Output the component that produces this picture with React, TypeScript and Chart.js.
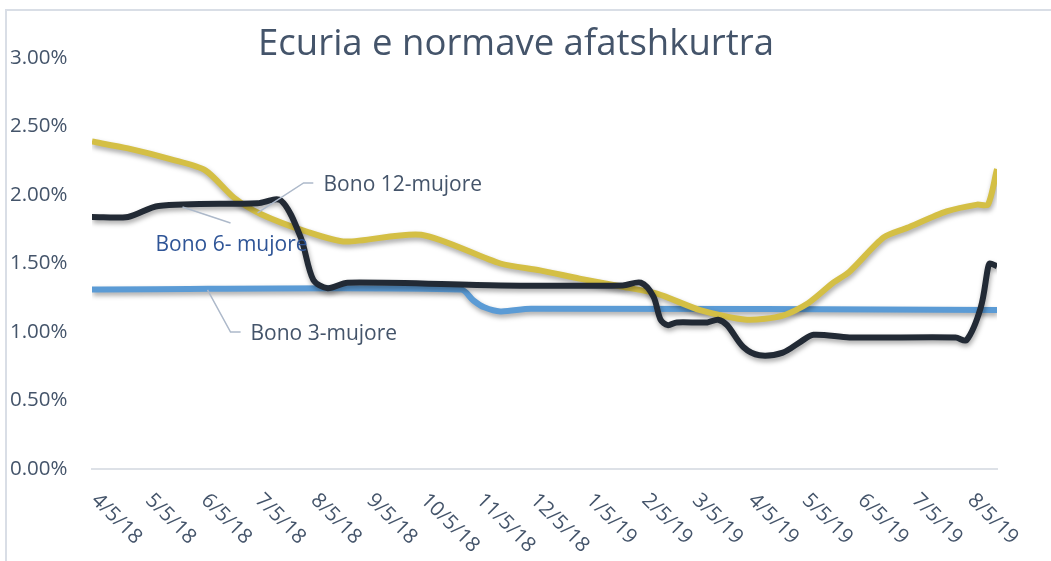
import React, { useEffect, useRef } from "react";
import { Chart, registerables } from "chart.js";

Chart.register(...registerables);

// ---- data ----
const tickDays = [0, 30, 61, 91, 122, 153, 183, 214, 244, 275, 306, 334, 365, 395, 426, 456, 487];
const tickLabels = [
  "4/5/18", "5/5/18", "6/5/18", "7/5/18", "8/5/18", "9/5/18", "10/5/18", "11/5/18", "12/5/18",
  "1/5/19", "2/5/19", "3/5/19", "4/5/19", "5/5/19", "6/5/19", "7/5/19", "8/5/19",
];

const days12 = [-2, 18, 42, 61, 77, 92, 118, 139, 181, 225, 247, 269, 293, 312, 336, 362, 382, 396, 410, 419, 438, 451, 473, 490, 496, 501];
const bono12 = [2.39, 2.34, 2.26, 2.18, 1.98, 1.86, 1.73, 1.66, 1.71, 1.5, 1.45, 1.39, 1.33, 1.28, 1.16, 1.09, 1.12, 1.21, 1.36, 1.44, 1.69, 1.76, 1.88, 1.93, 1.93, 2.19];

const days6 = [-2, 18, 35, 90, 103, 114, 121, 129, 140, 225, 293, 303, 310, 314, 318, 323, 340, 346, 351, 360, 369, 382, 392, 399, 419, 478, 484, 492, 496, 497, 501];
const bono6 = [1.84, 1.84, 1.92, 1.94, 1.96, 1.69, 1.38, 1.32, 1.36, 1.34, 1.34, 1.36, 1.26, 1.09, 1.05, 1.07, 1.07, 1.09, 1.05, 0.89, 0.83, 0.85, 0.93, 0.98, 0.96, 0.96, 0.94, 1.18, 1.47, 1.5, 1.48];

const days3 = [-2, 203, 210, 216, 225, 242, 501];
const bono3 = [1.31, 1.31, 1.23, 1.18, 1.15, 1.17, 1.16];

const seriesNames = ["Bono 6- mujore", "Bono 12-mujore", "Bono 3-mujore"];

const TITLE = "Ecuria e normave afatshkurtra";
const TEXT = "#44546A";
const FONT = '"Open Sans", "Noto Sans", sans-serif';

// annotation labels (data coordinates: day, value)
const annotations = [
  { text: "Bono 12-mujore", color: TEXT, at: [126.7, 2.03], leader: [[121, 2.088], [115.6, 2.088], [90, 1.869]] },
  { text: "Bono 6- mujore", color: "#2F5597", at: [33.3, 1.59], leader: [[75, 1.796], [48.3, 1.912]] },
  { text: "Bono 3-mujore", color: TEXT, at: [86.1, 0.942], leader: [[62.2, 1.307], [75, 1.0], [80.6, 1.0]] },
];

const toXY = (xs: number[], ys: number[]) => xs.map((x, i) => ({ x, y: ys[i] }));

export default function App() {
  const ref = useRef<HTMLCanvasElement | null>(null);

  useEffect(() => {
    document.body.style.margin = "0";
    const canvas = ref.current;
    if (!canvas) return;

    const framePlugin = {
      id: "frame",
      beforeDraw(chart: any) {
        const ctx = chart.ctx;
        ctx.save();
        ctx.strokeStyle = "#D9DEE6";
        ctx.lineWidth = 2;
        ctx.beginPath();
        ctx.moveTo(6, chart.height);
        ctx.lineTo(6, 10);
        ctx.lineTo(chart.width, 10);
        ctx.stroke();
        ctx.fillStyle = TEXT;
        ctx.font = `36.5px ${FONT}`;
        ctx.textAlign = "center";
        ctx.textBaseline = "alphabetic";
        ctx.fillText(TITLE, 516, 55);
        ctx.restore();
      },
    };

    const shadowPlugin = {
      id: "shadow",
      beforeDatasetDraw(chart: any) {
        const ctx = chart.ctx;
        ctx.save();
        ctx.shadowColor = "rgba(0,0,0,0.35)";
        ctx.shadowBlur = 5;
        ctx.shadowOffsetX = 1;
        ctx.shadowOffsetY = 3;
      },
      afterDatasetDraw(chart: any) {
        chart.ctx.restore();
      },
    };

    const labelsPlugin = {
      id: "xlabels",
      afterDraw(chart: any) {
        const ctx = chart.ctx;
        const xs = chart.scales.x;
        const ys = chart.scales.y;
        ctx.save();
        ctx.font = `20.5px ${FONT}`;
        ctx.fillStyle = TEXT;
        ctx.textAlign = "left";
        ctx.textBaseline = "middle";
        const top = chart.chartArea.bottom + 28;
        xs.ticks.forEach((t: any, i: number) => {
          const px = xs.getPixelForValue(t.value);
          ctx.save();
          ctx.translate(px - 1, top);
          ctx.rotate(Math.PI / 4);
          ctx.fillText(tickLabels[i], 0, 0);
          ctx.restore();
        });
        // annotations
        ctx.font = `21px ${FONT}`;
        annotations.forEach((a) => {
          ctx.strokeStyle = "#ADB9CA";
          ctx.lineWidth = 1.5;
          ctx.beginPath();
          a.leader.forEach((p, i) => {
            const x = xs.getPixelForValue(p[0]);
            const y = ys.getPixelForValue(p[1]);
            if (i === 0) ctx.moveTo(x, y);
            else ctx.lineTo(x, y);
          });
          ctx.stroke();
          ctx.fillStyle = a.color;
          ctx.textBaseline = "alphabetic";
          ctx.fillText(a.text, xs.getPixelForValue(a.at[0]), ys.getPixelForValue(a.at[1]));
        });
        ctx.restore();
      },
    };

    const chart = new Chart(canvas, {
      type: "line",
      data: {
        datasets: [
          {
            label: seriesNames[0],
            data: toXY(days6, bono6),
            borderColor: "#222A35",
            borderWidth: 6,
            pointRadius: 0,
            tension: 0.3,
            fill: false,
          },
          {
            label: seriesNames[1],
            data: toXY(days12, bono12),
            borderColor: "#D4BF45",
            borderWidth: 6,
            pointRadius: 0,
            tension: 0.25,
            fill: false,
          },
          {
            label: seriesNames[2],
            data: toXY(days3, bono3),
            borderColor: "#5B9BD5",
            borderWidth: 6,
            pointRadius: 0,
            tension: 0.3,
            fill: false,
          },
        ],
      },
      options: {
        responsive: false,
        animation: false,
        layout: { padding: { left: 10, top: 58, right: 54, bottom: 0 } },
        plugins: {
          legend: { display: false },
          title: { display: false },
          tooltip: { enabled: false },
        },
        scales: {
          x: {
            type: "linear",
            min: -2,
            max: 501,
            grid: { display: false },
            border: { display: true, color: "#DDE1E7", width: 2 },
            ticks: { display: false },
            afterBuildTicks: (scale: any) => {
              scale.ticks = tickDays.map((v) => ({ value: v }));
            },
            afterFit: (scale: any) => {
              scale.height = 92;
            },
          },
          y: {
            min: 0,
            max: 3,
            grid: { display: false },
            border: { display: false },
            ticks: {
              stepSize: 0.5,
              crossAlign: "far",
              color: TEXT,
              font: { family: FONT, size: 20.5 },
              callback: (v: any) => Number(v).toFixed(2) + "%",
            },
            afterFit: (scale: any) => {
              scale.width = 82;
            },
          },
        },
      },
      plugins: [framePlugin, shadowPlugin, labelsPlugin],
    });

    return () => chart.destroy();
  }, []);

  return <canvas ref={ref} width={1051} height={561} style={{ display: "block" }} />;
}
